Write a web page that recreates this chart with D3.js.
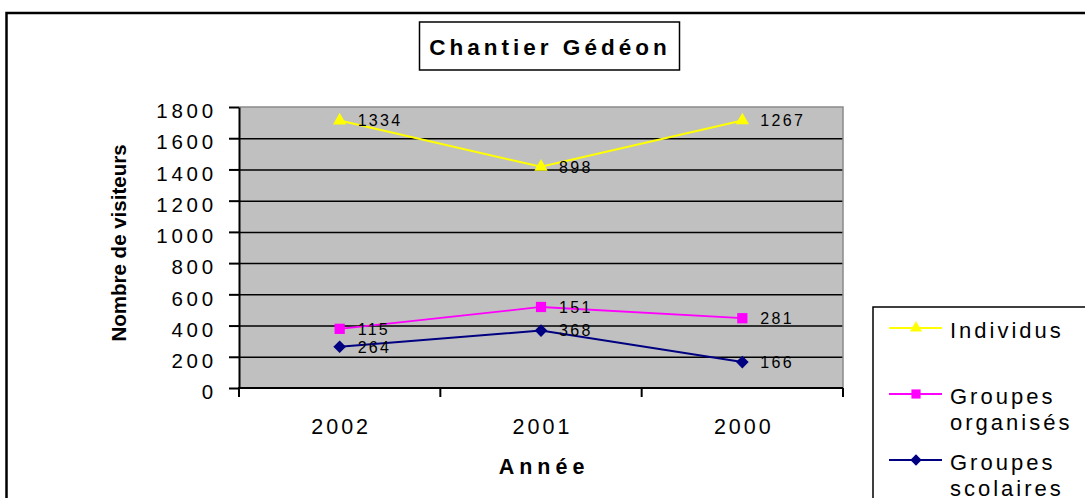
<html>
<head>
  <meta charset="utf-8">
  <title>Chantier Gédéon</title>
  <style>
    body { margin: 0; background: #fff; }
    text { font-family: "Liberation Sans", Arial, sans-serif; }
  </style>
</head>
<body>
<script src="https://cdn.jsdelivr.net/npm/d3@7/dist/d3.min.js"></script>
<script>

// données
var years     = ["2002", "2001", "2000"];
var individus = [1334, 898, 1267];
var organises = [115, 151, 281];
var scolaires = [264, 368, 166];
var seriesNames = ["Individus", "Groupes organisés", "Groupes scolaires"];
var yTicks = [0, 200, 400, 600, 800, 1000, 1200, 1400, 1600, 1800];

var width = 1085, height = 498;

var svg = d3.select("body").append("svg")
    .attr("width", width)
    .attr("height", height);

// cadre extérieur
svg.append("rect")
    .attr("x", 6.5).attr("y", 13)
    .attr("width", 1100).attr("height", 500)
    .attr("fill", "none").attr("stroke", "#000").attr("stroke-width", 2.5);

// titre
svg.append("rect")
    .attr("x", 419.5).attr("y", 22)
    .attr("width", 260).attr("height", 48)
    .attr("fill", "#fff").attr("stroke", "#000").attr("stroke-width", 1.5);
svg.append("text")
    .attr("x", 550).attr("y", 55)
    .attr("text-anchor", "middle")
    .attr("font-size", 22.5).attr("font-weight", "bold")
    .attr("letter-spacing", 4)
    .text("Chantier Gédéon");

var pLeft = 239, pRight = 843, pTop = 107, pBottom = 388;

var x = d3.scaleBand().domain(years).range([pLeft, pRight]).padding(0);
var y = d3.scaleLinear().domain([0, 1800]).range([pBottom, pTop]);

// zone de tracé
svg.append("rect")
    .attr("x", pLeft).attr("y", pTop)
    .attr("width", pRight - pLeft).attr("height", pBottom - pTop)
    .attr("fill", "#c0c0c0");

// quadrillage
svg.append("g")
    .attr("transform", "translate(" + pLeft + ",0)")
    .call(d3.axisLeft(y).tickValues(yTicks.slice(1, -1)).tickSize(-(pRight - pLeft)).tickFormat(""))
    .call(function(g) {
      g.select(".domain").remove();
      g.selectAll("line").attr("stroke", "#000").attr("stroke-width", 1.5);
    });

// bordure grise haut / droite
svg.append("path")
    .attr("d", "M" + pLeft + "," + pTop + "H" + pRight + "V" + pBottom)
    .attr("fill", "none").attr("stroke", "#8a8a8a").attr("stroke-width", 1.5);

// axe Y
svg.append("g")
    .attr("transform", "translate(" + pLeft + ",0)")
    .call(d3.axisLeft(y).tickValues(yTicks).tickFormat(d3.format("d"))
      .tickSize(10).tickPadding(12).tickSizeOuter(0))
    .call(function(g) {
      g.select(".domain").attr("stroke-width", 2);
      g.selectAll("line").attr("stroke-width", 2);
      g.selectAll("text")
        .attr("font-size", 20.5)
        .attr("letter-spacing", 3.8)
        .attr("font-family", "Liberation Sans, Arial, sans-serif")
        .attr("fill", "#000")
        .attr("dy", "0.52em");
    });

// axe X
svg.append("line")
    .attr("x1", pLeft - 1).attr("x2", pRight)
    .attr("y1", pBottom).attr("y2", pBottom)
    .attr("stroke", "#000").attr("stroke-width", 2);

var bounds = years.map(function(d) { return x(d); }).concat([x(years[years.length - 1]) + x.bandwidth()]);
svg.selectAll(".xtick").data(bounds).enter().append("line")
    .attr("x1", function(d) { return d; }).attr("x2", function(d) { return d; })
    .attr("y1", pBottom).attr("y2", pBottom + 9)
    .attr("stroke", "#000").attr("stroke-width", 2);

svg.selectAll(".xlabel").data(years).enter().append("text")
    .attr("x", function(d) { return x(d) + x.bandwidth() / 2 + 1.5; })
    .attr("y", 434)
    .attr("text-anchor", "middle")
    .attr("font-size", 21.5)
    .attr("letter-spacing", 3)
    .text(function(d) { return d; });

// titres des axes
svg.append("text")
    .attr("x", 541 + 3).attr("y", 474)
    .attr("text-anchor", "middle")
    .attr("font-size", 21.5).attr("font-weight", "bold")
    .attr("letter-spacing", 5)
    .text("Année");

svg.append("text")
    .attr("transform", "translate(126,243) rotate(-90)")
    .attr("text-anchor", "middle")
    .attr("font-size", 20.5).attr("font-weight", "bold")
    .text("Nombre de visiteurs");

// courbes empilées
var rows = years.map(function(d, i) {
  return { year: d, scolaires: scolaires[i], organises: organises[i], individus: individus[i] };
});
var stack = d3.stack().keys(["scolaires", "organises", "individus"]);
var stacked = stack(rows);

// losange = carré tourné de 45°
var styles = {
  individus: { color: "#ffff00", name: seriesNames[0], symbol: d3.symbolTriangle, size: 78, rot: 0, w: 2 },
  organises: { color: "#ff00ff", name: seriesNames[1], symbol: d3.symbolSquare, size: 105, rot: 0, w: 1.8 },
  scolaires: { color: "#000080", name: seriesNames[2], symbol: d3.symbolSquare, size: 80, rot: 45, w: 2 }
};

var line = d3.line()
    .x(function(d) { return x(d.data.year) + x.bandwidth() / 2; })
    .y(function(d) { return y(d[1]); });

var drawOrder = ["scolaires", "organises", "individus"];
drawOrder.forEach(function(k) {
  var s = stacked.find(function(t) { return t.key === k; });
  var st = styles[k];
  svg.append("path")
      .datum(s)
      .attr("d", line)
      .attr("fill", "none")
      .attr("stroke", st.color)
      .attr("stroke-width", st.w);

  svg.selectAll(".pt-" + k).data(s).enter().append("path")
      .attr("transform", function(d) {
        return "translate(" + (x(d.data.year) + x.bandwidth() / 2) + "," + y(d[1]) + ") rotate(" + st.rot + ")";
      })
      .attr("d", d3.symbol().type(st.symbol).size(st.size))
      .attr("fill", st.color);

  svg.selectAll(".lb-" + k).data(s).enter().append("text")
      .attr("x", function(d) { return x(d.data.year) + x.bandwidth() / 2 + 18; })
      .attr("y", function(d) { return y(d[1]); })
      .attr("dy", "0.36em")
      .attr("font-size", 16)
      .attr("letter-spacing", 2.3)
      .text(function(d) { return d.data[k]; });
});

// légende
svg.append("rect")
    .attr("x", 873).attr("y", 307)
    .attr("width", 300).attr("height", 300)
    .attr("fill", "#fff").attr("stroke", "#000").attr("stroke-width", 1.5);

var legendItems = [
  { key: "individus", lines: ["Individus"], y: 328 },
  { key: "organises", lines: ["Groupes", "organisés"], y: 394 },
  { key: "scolaires", lines: ["Groupes", "scolaires"], y: 460 }
];

var lg = svg.selectAll(".leg").data(legendItems).enter().append("g");
lg.append("line")
    .attr("x1", 889).attr("x2", 942)
    .attr("y1", function(d) { return d.y; }).attr("y2", function(d) { return d.y; })
    .attr("stroke", function(d) { return styles[d.key].color; })
    .attr("stroke-width", 2);
lg.append("path")
    .attr("transform", function(d) { return "translate(916," + d.y + ") rotate(" + styles[d.key].rot + ")"; })
    .attr("d", function(d) { return d3.symbol().type(styles[d.key].symbol).size(styles[d.key].size * 0.8)(); })
    .attr("fill", function(d) { return styles[d.key].color; });
lg.append("text")
    .attr("x", 950)
    .attr("y", function(d) { return d.y + 9.5; })
    .attr("font-size", 22)
    .attr("letter-spacing", 3)
    .selectAll("tspan").data(function(d) { return d.lines; }).enter().append("tspan")
    .attr("x", 950)
    .attr("dy", function(d, i) { return i === 0 ? 0 : 26; })
    .text(function(d) { return d; });

</script>
</body>
</html>
